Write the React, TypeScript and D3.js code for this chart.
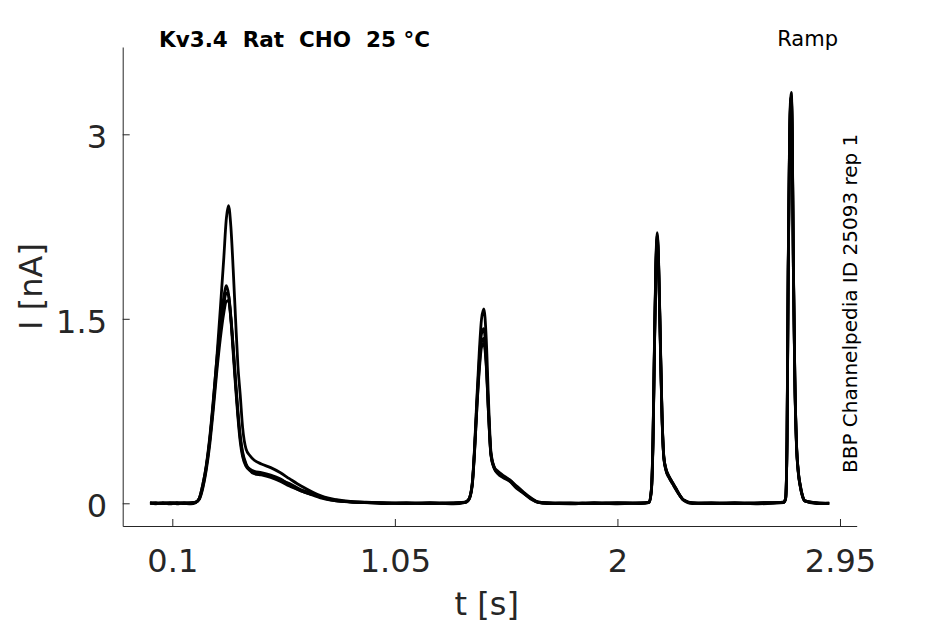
import { useEffect, useRef } from 'react'
import * as d3 from 'd3'

// sample times (s), shared by all sweeps
const times = [
  0.005, 0.03, 0.06, 0.09, 0.12, 0.15, 0.18, 0.2,
  0.215, 0.23, 0.245, 0.26, 0.275, 0.29, 0.305, 0.32, 0.33, 0.34, 0.35, 0.36, 0.37, 0.38, 0.39, 0.4,
  0.415, 0.43, 0.45, 0.48, 0.52, 0.56, 0.6, 0.65, 0.7, 0.75, 0.8, 0.86, 0.92,
  1.0, 1.1, 1.2, 1.3,
  1.35, 1.365, 1.38, 1.39, 1.4, 1.41, 1.42, 1.43, 1.44, 1.45, 1.46, 1.475, 1.49, 1.51, 1.54, 1.57, 1.6, 1.63, 1.66,
  1.7, 1.8, 1.9, 2.0, 2.1,
  2.135, 2.145, 2.152, 2.158, 2.164, 2.17, 2.176, 2.183, 2.19, 2.198, 2.207, 2.22, 2.235, 2.25, 2.265, 2.28,
  2.32, 2.4, 2.5, 2.6,
  2.71, 2.718, 2.724, 2.729, 2.734, 2.738, 2.742, 2.746, 2.751, 2.757, 2.764, 2.772, 2.78, 2.79, 2.8,
  2.85, 2.904,
]

// current (nA) per sweep
const sweepA = [
  0.004, -0.004, 0.006, 0.0, 0.005, -0.003, 0.006, 0.01,
  0.04, 0.15, 0.3, 0.52, 0.82, 1.18, 1.58, 2.0, 2.3, 2.42, 2.25, 1.9, 1.5, 1.12, 0.88, 0.62,
  0.44, 0.39, 0.35, 0.32, 0.29, 0.25, 0.2, 0.14, 0.09, 0.05, 0.03, 0.015, 0.01,
  0.004, -0.003, 0.005, 0.0,
  0.01, 0.03, 0.16, 0.45, 0.85, 1.22, 1.5, 1.58, 1.34, 0.82, 0.42, 0.29, 0.25, 0.22, 0.19, 0.14, 0.09, 0.045, 0.012,
  0.003, -0.004, 0.005, 0.0, 0.004,
  0.01, 0.12, 0.55, 1.3, 1.95, 2.2, 1.95, 1.35, 0.75, 0.38, 0.28, 0.22, 0.17, 0.12, 0.07, 0.03,
  0.004, -0.003, 0.005, 0.0,
  0.01, 0.04, 0.55, 1.95, 2.85, 3.25, 3.34, 3.05, 1.95, 1.05, 0.5, 0.26, 0.15, 0.06, 0.02,
  0.004, 0.0,
]

const sweepB = [
  -0.003, 0.005, -0.002, 0.006, -0.004, 0.004, 0.002, 0.01,
  0.04, 0.15, 0.31, 0.54, 0.84, 1.17, 1.45, 1.68, 1.77, 1.7, 1.5, 1.22, 0.95, 0.7, 0.5, 0.38,
  0.3, 0.27, 0.25, 0.24, 0.22, 0.19, 0.16, 0.11, 0.08, 0.045, 0.025, 0.012, 0.008,
  -0.003, 0.005, -0.002, 0.004,
  0.005, 0.03, 0.15, 0.43, 0.82, 1.15, 1.38, 1.42, 1.18, 0.74, 0.4, 0.28, 0.24, 0.21, 0.18, 0.13, 0.085, 0.04, 0.01,
  -0.003, 0.004, -0.002, 0.005, -0.003,
  0.008, 0.11, 0.52, 1.26, 1.9, 2.16, 1.92, 1.32, 0.73, 0.37, 0.27, 0.21, 0.16, 0.11, 0.065, 0.028,
  -0.003, 0.005, -0.002, 0.004,
  0.008, 0.04, 0.52, 1.9, 2.8, 3.2, 3.3, 3.0, 1.92, 1.03, 0.49, 0.25, 0.14, 0.055, 0.018,
  -0.003, 0.002,
]

const sweepC = [
  0.002, 0.0, 0.004, -0.005, 0.003, 0.0, -0.004, 0.005,
  0.035, 0.13, 0.29, 0.51, 0.8, 1.12, 1.4, 1.62, 1.71, 1.69, 1.52, 1.26, 0.98, 0.73, 0.53, 0.4,
  0.31, 0.28, 0.26, 0.25, 0.23, 0.2, 0.15, 0.1, 0.07, 0.04, 0.02, 0.01, 0.005,
  0.002, 0.0, 0.004, -0.004,
  0.008, 0.025, 0.14, 0.41, 0.78, 1.1, 1.31, 1.34, 1.14, 0.72, 0.39, 0.28, 0.25, 0.22, 0.18, 0.12, 0.08, 0.04, 0.008,
  0.002, 0.0, 0.004, -0.004, 0.003,
  0.006, 0.1, 0.5, 1.24, 1.88, 2.14, 1.9, 1.3, 0.72, 0.37, 0.27, 0.21, 0.16, 0.115, 0.068, 0.03,
  0.002, 0.0, 0.004, -0.004,
  0.006, 0.035, 0.5, 1.88, 2.78, 3.18, 3.28, 2.98, 1.9, 1.02, 0.48, 0.25, 0.14, 0.058, 0.02,
  0.002, -0.002,
]

const sweepD = [
  0.006, 0.002, -0.003, 0.004, 0.001, 0.005, 0.003, 0.008,
  0.03, 0.12, 0.27, 0.48, 0.76, 1.07, 1.34, 1.55, 1.64, 1.65, 1.5, 1.27, 1.0, 0.75, 0.55, 0.42,
  0.32, 0.27, 0.24, 0.23, 0.21, 0.18, 0.14, 0.1, 0.065, 0.035, 0.02, 0.012, 0.006,
  0.005, 0.002, -0.003, 0.004,
  0.01, 0.03, 0.15, 0.42, 0.77, 1.07, 1.27, 1.3, 1.12, 0.72, 0.4, 0.29, 0.26, 0.23, 0.19, 0.13, 0.08, 0.035, 0.01,
  0.005, 0.002, -0.003, 0.004, 0.001,
  0.01, 0.11, 0.53, 1.27, 1.92, 2.18, 1.93, 1.33, 0.74, 0.38, 0.28, 0.22, 0.17, 0.12, 0.07, 0.03,
  0.005, 0.002, -0.003, 0.004,
  0.01, 0.045, 0.53, 1.92, 2.82, 3.22, 3.31, 3.02, 1.93, 1.04, 0.5, 0.26, 0.15, 0.06, 0.02,
  0.005, 0.001,
]

const sweeps = [sweepA, sweepB, sweepC, sweepD]

const xTicks = [0.1, 1.05, 2, 2.95]
const yTicks = [0, 1.5, 3]

const titleText = 'Kv3.4  Rat  CHO  25 °C'
const protocolText = 'Ramp'
const sourceText = 'BBP Channelpedia ID 25093 rep 1'

export default function App() {
  const svgRef = useRef<SVGSVGElement>(null)

  useEffect(() => {
    if (!svgRef.current) return

    const svg = d3.select(svgRef.current)
    svg.selectAll('*').remove()

    const width = 945
    const height = 624
    const left = 122.7
    const right = 856.7
    const top = 47
    const bottom = 526
    const axisColor = '#262626'
    const font = '"DejaVu Sans", sans-serif'

    svg.attr('width', width).attr('height', height)

    svg.append('rect').attr('width', width).attr('height', height).attr('fill', '#ffffff')

    // Scales
    const x = d3.scaleLinear().domain([-0.1117, 3.0213]).range([left, right])
    const y = d3.scaleLinear().domain([-0.1846, 3.7098]).range([bottom, top])

    // Traces
    const line = d3.line<number>()
      .x((_, i) => x(times[i]))
      .y(d => y(d))
      .curve(d3.curveMonotoneX)

    svg.append('g')
      .selectAll('path')
      .data(sweeps)
      .enter()
      .append('path')
      .attr('d', d => line(d))
      .attr('fill', 'none')
      .attr('stroke', '#000000')
      .attr('stroke-width', 2.8)
      .attr('stroke-linejoin', 'round')

    // X Axis
    const gx = svg.append('g')
      .attr('transform', `translate(0,${bottom})`)
      .call(d3.axisBottom(x).tickValues(xTicks).tickFormat(d => String(d)).tickSizeInner(-7).tickSizeOuter(0).tickPadding(23.5))
    gx.select('.domain').attr('stroke', axisColor)
    gx.selectAll('line').attr('stroke', axisColor)
    gx.selectAll('text')
      .style('font-family', font)
      .style('font-size', '32px')
      .attr('fill', axisColor)

    // Y Axis
    const gy = svg.append('g')
      .attr('transform', `translate(${left},0)`)
      .call(d3.axisLeft(y).tickValues(yTicks).tickFormat(d => String(d)).tickSizeInner(-7).tickSizeOuter(0).tickPadding(15.7))
    gy.select('.domain').attr('stroke', axisColor)
    gy.selectAll('line').attr('stroke', axisColor)
    gy.selectAll('text')
      .attr('dy', '0.42em')
      .style('font-family', font)
      .style('font-size', '32px')
      .attr('fill', axisColor)

    // Axis labels
    svg.append('text')
      .attr('x', (left + right) / 2 - 3)
      .attr('y', 615)
      .attr('text-anchor', 'middle')
      .style('font-family', font)
      .style('font-size', '32px')
      .attr('fill', axisColor)
      .text('t [s]')

    svg.append('text')
      .attr('transform', `translate(42,${(top + bottom) / 2}) rotate(-90)`)
      .attr('text-anchor', 'middle')
      .style('font-family', font)
      .style('font-size', '32px')
      .attr('fill', axisColor)
      .text('I [nA]')

    // Annotations
    svg.append('text')
      .attr('x', 159)
      .attr('y', 46.7)
      .style('font-family', font)
      .style('font-size', '21.5px')
      .style('font-weight', 'bold')
      .style('white-space', 'pre')
      .attr('fill', '#000000')
      .text(titleText)

    svg.append('text')
      .attr('x', 838)
      .attr('y', 46)
      .attr('text-anchor', 'end')
      .style('font-family', font)
      .style('font-size', '21px')
      .attr('fill', '#000000')
      .text(protocolText)

    svg.append('text')
      .attr('transform', 'translate(857,473) rotate(-90)')
      .style('font-family', font)
      .style('font-size', '20px')
      .attr('fill', '#000000')
      .text(sourceText)
  }, [])

  return (
    <div style={{ position: 'absolute', left: 0, top: 0 }}>
      <svg ref={svgRef} style={{ display: 'block' }} />
    </div>
  )
}
